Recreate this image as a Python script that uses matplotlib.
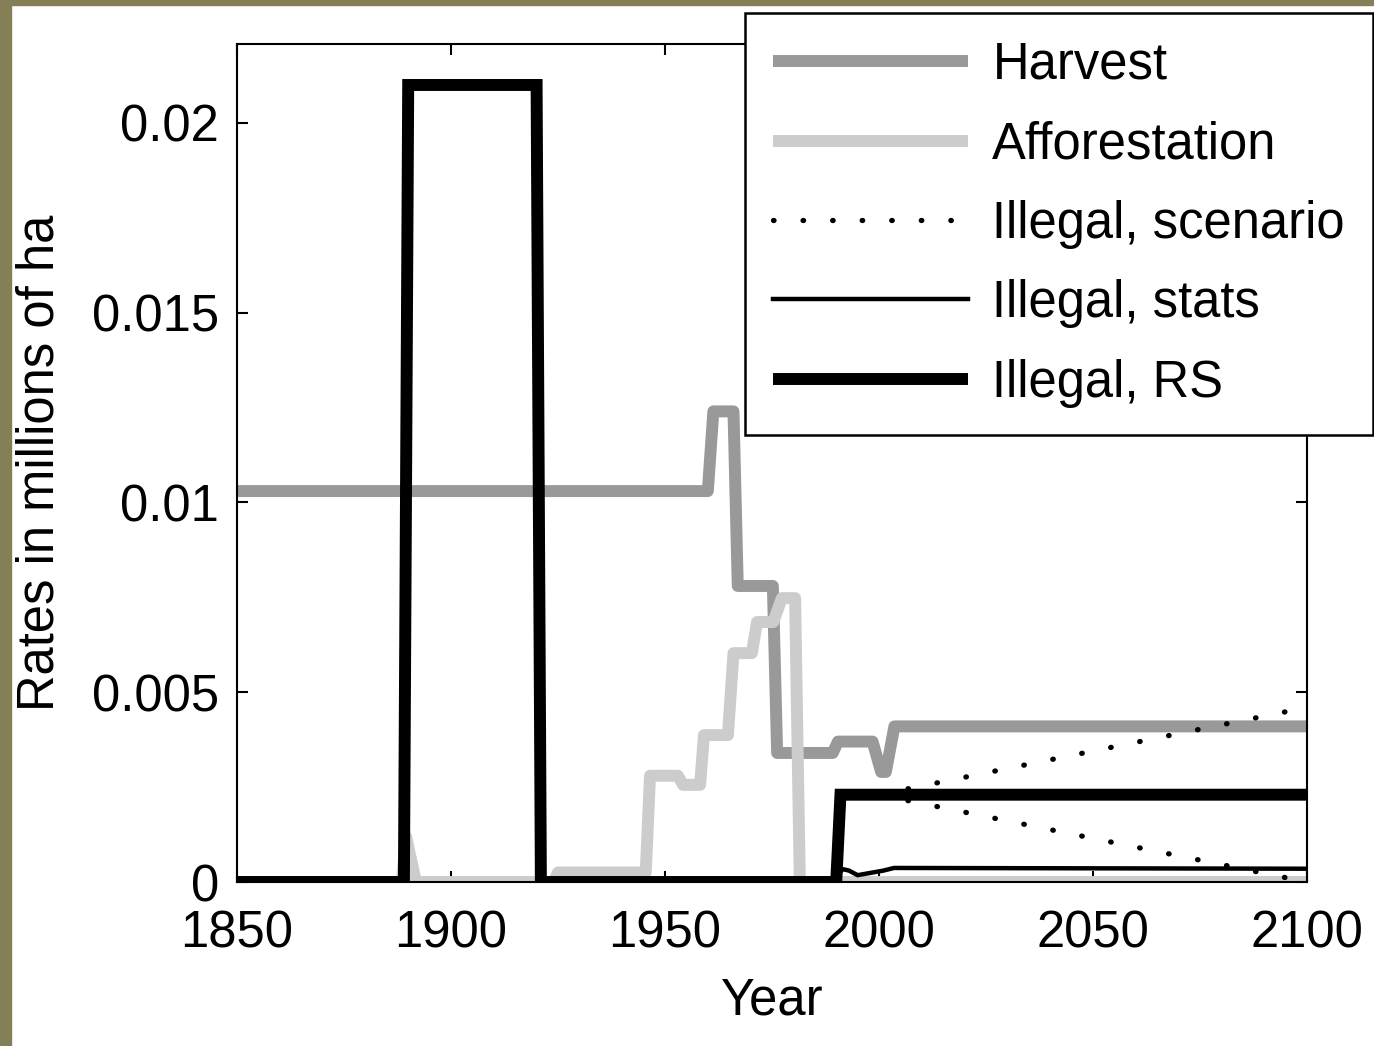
import numpy as np
import matplotlib
matplotlib.use('Agg')
import matplotlib.pyplot as plt
from matplotlib.patches import Rectangle

# data (years, rates in millions of ha)
harvest_years = [1850, 1960, 1961.3, 1966, 1967, 1975.2, 1976.2, 1989.2, 1990.4, 1998.5, 2000.5, 2001.6, 2003.6, 2100]
harvest_vals = [0.0103, 0.0103, 0.0124, 0.0124, 0.0078, 0.0078, 0.0034, 0.0034, 0.0037, 0.0037, 0.0029, 0.0029, 0.0041, 0.0041]

affor_years = [1850, 1888.5, 1889.5, 1891.8, 1924, 1925, 1945.5, 1946.5, 1953, 1954.2, 1958.2, 1959.1, 1964.7, 1966,
               1970.3, 1971.5, 1975.3, 1977.3, 1980.4, 1981.5, 2100]
affor_vals = [0, 0, 0.0012, 0, 0, 0.00025, 0.00025, 0.0028, 0.0028, 0.00256, 0.00256, 0.00387, 0.00387, 0.00603,
              0.00603, 0.00685, 0.00685, 0.00748, 0.00748, 0, 0]

scen_years = [2000, 2100]
scen_high = [0.0023, 0.0046]
scen_low = [0.0023, 0.0]

stats_years = [1990, 1991.5, 1993, 1995, 1997, 1999, 2001, 2003.5, 2100]
stats_vals = [0.0001, 0.00034, 0.0003, 0.00018, 0.00022, 0.00026, 0.0003, 0.00037, 0.00035]

rs_years = [1850, 1889, 1890, 1920, 1921, 1990, 1991, 2100]
rs_vals = [0, 0, 0.021, 0.021, 0, 0, 0.0023, 0.0023]

xticks = [1850, 1900, 1950, 2000, 2050, 2100]
yticks = [0, 0.005, 0.01, 0.015, 0.02]
ytick_labels = ['0', '0.005', '0.01', '0.015', '0.02']

plt.rcParams['font.family'] = ['Liberation Sans', 'DejaVu Sans']
fs = 36.5

fig = plt.figure(figsize=(13.74, 10.46), dpi=100)
# olive frame on left and top
fig.patches.append(Rectangle((0, 0), 11/1374, 1, transform=fig.transFigure, color='#857f58', zorder=-1))
fig.patches.append(Rectangle((0, 1-5/1046), 1, 5/1046, transform=fig.transFigure, color='#857f58', zorder=-1))

ax = fig.add_axes([237/1374, 164/1046, 1070/1374, 838/1046])

h1, = ax.plot(harvest_years, harvest_vals, color='#999999', lw=8.6, solid_joinstyle='round', solid_capstyle='butt', label='Harvest')
h2, = ax.plot(affor_years, affor_vals, color='#cccccc', lw=8.6, solid_joinstyle='round', solid_capstyle='butt', label='Afforestation')
h3, = ax.plot(scen_years, scen_high, color='black', lw=3.8, ls=(0, (0.1, 5.5)), dash_capstyle='round', label='Illegal, scenario')
ax.plot(scen_years, scen_low, color='black', lw=3.8, ls=(0, (0.1, 5.5)), dash_capstyle='round')
h4, = ax.plot(stats_years, stats_vals, color='black', lw=3.2, solid_joinstyle='round', label='Illegal, stats')
h5, = ax.plot(rs_years, rs_vals, color='black', lw=8.6, solid_joinstyle='miter', solid_capstyle='butt', label='Illegal, RS')

ax.set_xlim(1850, 2100)
ax.set_ylim(0, 0.02208)
ax.set_xticks(xticks)
ax.set_xticklabels([str(x) for x in xticks])
ax.set_yticks(yticks)
ax.set_yticklabels(ytick_labels)
ax.tick_params(direction='in', top=True, right=True, length=8, width=1.5, labelsize=fs, pad=13)
ax.tick_params(axis='x', pad=20)
for s in ax.spines.values():
    s.set_linewidth(1.5)

ax.set_xlabel('Year', fontsize=fs, labelpad=13)
ax.set_ylabel('Rates in millions of ha', fontsize=fs, labelpad=20)

leg = fig.legend(handles=[h1, h2, h3, h4, h5], loc='upper left', bbox_to_anchor=(745/1374, 1-13/1046),
                 fontsize=fs, frameon=True, fancybox=False, framealpha=1, edgecolor='black',
                 handlelength=3.85, handletextpad=0.48, labelspacing=0.6, borderpad=0.55, borderaxespad=0)
leg.get_frame().set_linewidth(1.8)

fig.savefig('out.png', dpi=100)
